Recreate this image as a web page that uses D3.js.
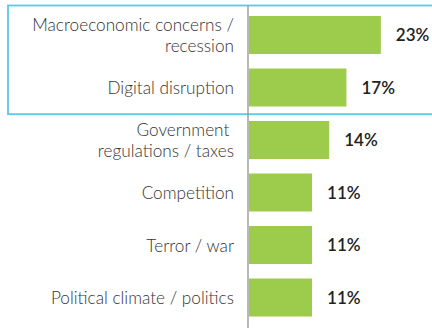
<!DOCTYPE html>
<html>
<head>
<meta charset="utf-8">
<script src="https://cdn.jsdelivr.net/npm/d3@7"></script>
<style>
  html, body { margin: 0; padding: 0; background: #fff; }
  svg { display: block; }
</style>
</head>
<body>
<div id="chart"></div>
<script>
// Share of respondents naming each risk (%)
const categories = [
  ["Macroeconomic concerns /", "recession"],
  ["Digital disruption"],
  ["Government ", "regulations / taxes"],
  ["Competition"],
  ["Terror / war"],
  ["Political climate / politics"]
];
const values = [23, 17, 14, 11, 11, 11];
const valueLabels = ["23%", "17%", "14%", "11%", "11%", "11%"];
// The first two rows are framed as a group
const highlighted = 2;

const W = 432, H = 328;
const axisX = 248;

const svg = d3.select("#chart").append("svg")
  .attr("width", W).attr("height", H);

const keys = categories.map((c, i) => i);

const x = d3.scaleLinear().domain([0, 25]).range([axisX, axisX + 143.3]);
const y = d3.scaleBand().domain(keys)
  .range([8.75, 323.75]).paddingInner(0.2762).paddingOuter(0.1381);

// Highlight frame around the top rows
const frameTop = y(0) - 10.5;
const frameBottom = y(highlighted - 1) + y.bandwidth() + 7.7;
svg.append("rect")
  .attr("x", 8).attr("y", frameTop)
  .attr("width", W + 20).attr("height", frameBottom - frameTop)
  .attr("fill", "none")
  .attr("stroke", "#5cc7ee")
  .attr("stroke-width", 1.8);

// Bars
svg.append("g").selectAll("rect")
  .data(values)
  .join("rect")
  .attr("x", x(0) + 1)
  .attr("y", (d, i) => y(i))
  .attr("width", d => x(d) - x(0))
  .attr("height", y.bandwidth())
  .attr("fill", "#9dcb4b");

// Vertical baseline
svg.append("line")
  .attr("x1", axisX).attr("x2", axisX)
  .attr("y1", frameTop).attr("y2", H)
  .attr("stroke", "#9b9b9b")
  .attr("stroke-width", 1.4);

// Category labels
const lineH = 21;
const lab = svg.append("g")
  .attr("font-family", "Lato, 'Open Sans', sans-serif")
  .attr("font-size", 17.2)
  .attr("font-weight", 300)
  .attr("fill", "#333")
  .attr("text-anchor", "end");

categories.forEach((lines, i) => {
  const cy = y(i) + y.bandwidth() / 2;
  const t = lab.append("text")
    .attr("x", 234)
    .attr("y", cy - (lines.length - 1) * lineH / 2 + 6.5)
    .style("white-space", "pre");
  lines.forEach((s, j) => {
    t.append("tspan")
      .attr("x", 234)
      .attr("dy", j === 0 ? 0 : lineH)
      .text(s);
  });
});

// Value labels
svg.append("g")
  .attr("font-family", "Lato, 'Open Sans', sans-serif")
  .attr("font-size", 17)
  .attr("font-weight", 600)
  .attr("fill", "#222")
  .selectAll("text")
  .data(values)
  .join("text")
  .attr("x", d => x(d) + 16)
  .attr("y", (d, i) => y(i) + y.bandwidth() / 2 + 6)
  .text((d, i) => valueLabels[i]);
</script>
</body>
</html>
